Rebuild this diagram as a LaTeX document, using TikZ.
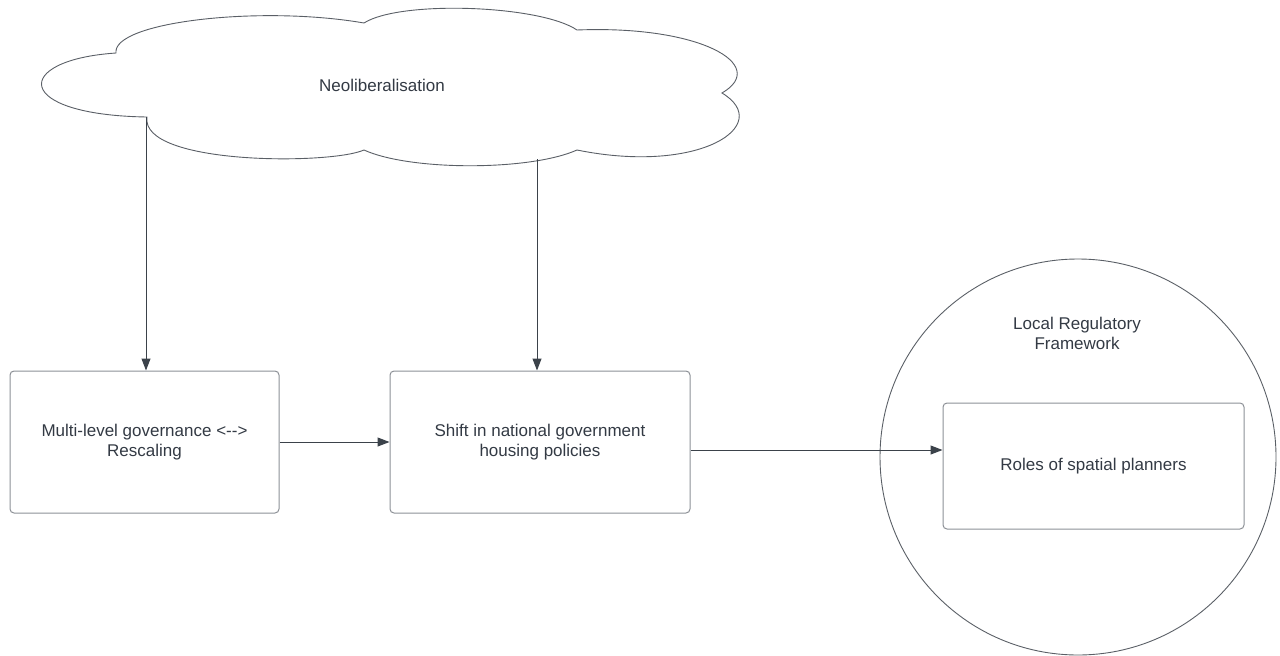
\documentclass[tikz,border=0pt]{standalone}
\usepackage{fontspec}
\setmainfont[Ligatures=NoCommon]{Liberation Sans}
\usetikzlibrary{arrows.meta,calc}
\definecolor{txt}{HTML}{333A44}
\definecolor{arrc}{HTML}{3B424A}
\definecolor{boxc}{HTML}{8C9096}
\definecolor{outl}{HTML}{5A5F66}
\tikzset{
  box/.style={draw=boxc,line width=1pt,rounded corners=4pt,align=center,text=txt,inner sep=0pt,
    font=\fontsize{17}{20}\selectfont},
  lbl/.style={align=center,text=txt,font=\fontsize{17}{20}\selectfont,inner sep=0pt},
  arr/.style={draw=arrc,line width=1pt,-{Triangle[length=12pt,width=9pt]}},
}
\begin{document}
\begin{tikzpicture}[x=1pt,y=-1pt]
\useasboundingbox (0,0) rectangle (1280,656);
% cloud
\draw[outl,line width=0.9pt,fill=white]
  (116,53) .. controls (112,22) and (260,5) .. (364,23)
  .. controls (400,0) and (540,5) .. (577,30)
  .. controls (700,25) and (770,65) .. (722,93)
  .. controls (775,125) and (700,175) .. (577,150)
  .. controls (530,171) and (410,171) .. (364,150)
  .. controls (330,165) and (140,165) .. (147,117)
  .. controls (12,115) and (12,60) .. (116,53) -- cycle;
\node[lbl] (neo) at (382,85) {Neoliberalisation};
\coordinate (c1) at (146,117);
\coordinate (c2) at (537,159);
% circle
\node[draw=outl,line width=0.9pt,circle,minimum size=396pt,inner sep=0pt] (circ) at (1078,457) {};
\node[lbl] (lrf) at (1077,333) {Local Regulatory\\Framework};
% boxes
\node[box,minimum width=269pt,minimum height=142pt] (b1) at (144.5,442) {Multi-level governance <{-}{-}>\\Rescaling};
\node[box,minimum width=300pt,minimum height=142pt] (b2) at (540,442) {Shift in national government\\housing policies};
\node[box,minimum width=301pt,minimum height=126pt] (b3) at (1093.5,466) {Roles of spatial planners};
% arrows
\draw[arr] (c1) -- (c1 |- b1.north);
\draw[arr] (c2) -- (c2 |- b2.north);
\draw[arr] (b1.east) -- (b2.west);
\draw[arr] ([yshift=-8pt]b2.east) -- ([yshift=-8pt]b2.east -| b3.west);
\end{tikzpicture}
\end{document}
